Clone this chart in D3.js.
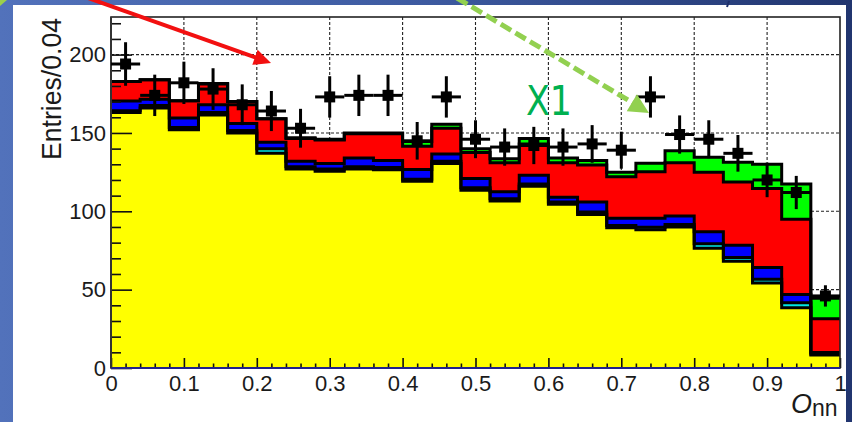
<!DOCTYPE html>
<html>
<head>
<meta charset="utf-8">
<script src="https://cdn.jsdelivr.net/npm/d3@7"></script>
<style>
  html, body { margin: 0; padding: 0; background: #fff; }
  svg { display: block; }
</style>
</head>
<body>
<svg id="chart" width="852" height="422"></svg>
<script>
// ---- histogram contents (25 bins of width 0.04 in O_nn) ----
const binLow = [0.00, 0.04, 0.08, 0.12, 0.16, 0.20, 0.24, 0.28, 0.32, 0.36,
                0.40, 0.44, 0.48, 0.52, 0.56, 0.60, 0.64, 0.68, 0.72, 0.76,
                0.80, 0.84, 0.88, 0.92, 0.96];
const binWidth = 0.04;

// stacked background components, bottom to top
const yellowBkg = [163, 166, 152, 161.5, 150, 137, 127, 125.5, 127, 126.5,
                   119.2, 130.5, 113.5, 106.5, 116, 104.5, 98, 89.5, 88.3, 90,
                   76.5, 68.1, 54.2, 38.5, 8.3];
const cyanBkg   = [1.2, 1.5, 1.5, 1.5, 1.5, 3, 1.5, 1.5, 1.5, 1.5,
                   1.3, 1.5, 1.5, 1.5, 1.5, 1.5, 1.5, 1.5, 1.5, 1.5,
                   2.8, 2.4, 2.5, 3.2, 0.6];
const blueBkg   = [6.2, 4, 6, 5, 4.5, 4, 3.5, 3.5, 5.5, 4.5,
                   6.2, 4.5, 6, 4.5, 5.5, 3, 6.5, 4.5, 5.7, 5.5,
                   7.7, 7.8, 7.5, 5.2, 1.0];
const redBkg    = [12.5, 12.5, 11, 13.3, 14, 15, 14.5, 15, 15.5, 17,
                   14.8, 16.5, 16.5, 18.5, 20, 22, 23.5, 26.5, 29.7, 34,
                   38, 40.4, 50.3, 48.1, 21.6];
const greenBkg  = [0, 0, 0, 0.2, 0, 0, 0.5, 0.5, 0.5, 0.5,
                   3, 2.5, 2.5, 2.5, 3.5, 3, 3, 3, 5.5, 7.6,
                   9.5, 12.6, 15.5, 22.5, 13];

// observed entries and their uncertainties
const dataCounts = [194, 174, 182, 178, 168, 164, 153, 173, 174, 174,
                    145, 173, 146, 141, 142, 141, 143, 139, 173, 149,
                    146, 137, 120, 112, 46];
const dataErrors = [13.9, 13.2, 13.5, 13.3, 13.0, 12.8, 12.4, 13.2, 13.2, 13.2,
                    12.0, 13.2, 12.1, 11.9, 11.9, 11.9, 12.0, 11.8, 13.2, 12.2,
                    12.1, 11.7, 11.0, 10.6, 6.8];

// axis ticks
const xMajorTicks = [0, 0.1, 0.2, 0.3, 0.4, 0.5, 0.6, 0.7, 0.8, 0.9, 1];
const xMinorTicks = [0.02, 0.04, 0.06, 0.08, 0.12, 0.14, 0.16, 0.18, 0.22, 0.24, 0.26, 0.28,
                     0.32, 0.34, 0.36, 0.38, 0.42, 0.44, 0.46, 0.48, 0.52, 0.54, 0.56, 0.58,
                     0.62, 0.64, 0.66, 0.68, 0.72, 0.74, 0.76, 0.78, 0.82, 0.84, 0.86, 0.88,
                     0.92, 0.94, 0.96, 0.98];
const yMajorTicks = [0, 50, 100, 150, 200];
const yMinorTicks = [10, 20, 30, 40, 60, 70, 80, 90, 110, 120, 130, 140, 160, 170, 180, 190, 210, 220];
const yMax = 224;

const layerKeys = ["yellow", "cyan", "blue", "red", "green"];
const layerFill = { yellow: "#ffff00", cyan: "#00e6e6", blue: "#0000ff", red: "#ff0000", green: "#00ff00" };

// ---- layout ----
const W = 852, H = 422;
const plot = { left: 111, right: 840, top: 17, bottom: 368 };

const svg = d3.select("#chart");

// slide backdrop and white panel
const defs = svg.append("defs");
const grad = defs.append("linearGradient").attr("id", "slideBg")
  .attr("x1", "0").attr("y1", "0").attr("x2", "1").attr("y2", "0");
grad.append("stop").attr("offset", "0").attr("stop-color", "#5272bb");
grad.append("stop").attr("offset", "0.5").attr("stop-color", "#3d5aa0");
grad.append("stop").attr("offset", "1").attr("stop-color", "#21356f");
svg.append("rect").attr("width", W).attr("height", H).attr("fill", "url(#slideBg)");
svg.append("rect").attr("x", 13).attr("y", 5).attr("width", 833).attr("height", H - 5).attr("fill", "#ffffff");
svg.append("path").attr("d", "M0,0 L7,0 L0,6 Z").attr("fill", "#9ccf4a");
svg.append("line").attr("x1", 729).attr("y1", 1).attr("x2", 727).attr("y2", 7)
  .attr("stroke", "#1d2f6a").attr("stroke-width", 2);

const x = d3.scaleLinear().domain([0, 1]).range([plot.left, plot.right]);
const y = d3.scaleLinear().domain([0, yMax]).range([plot.bottom, plot.top]);

// dashed grid underneath the histograms
const grid = svg.append("g").attr("stroke", "#222").attr("stroke-width", 1.1)
  .attr("stroke-dasharray", "3,2");
xMajorTicks.filter(v => v > 0 && v < 1).forEach(v => {
  grid.append("line").attr("x1", x(v)).attr("x2", x(v)).attr("y1", plot.top).attr("y2", plot.bottom);
});
yMajorTicks.filter(v => v > 0).forEach(v => {
  grid.append("line").attr("x1", plot.left).attr("x2", plot.right).attr("y1", y(v)).attr("y2", y(v));
});

// stacked backgrounds
const rows = binLow.map((b, i) => ({
  lo: b, hi: b + binWidth,
  yellow: yellowBkg[i], cyan: cyanBkg[i], blue: blueBkg[i], red: redBkg[i], green: greenBkg[i]
}));
const stacked = d3.stack().keys(layerKeys)(rows);

// each bin contributes its two edges so the shapes are flat-topped steps
function stepPoints(series) {
  const pts = [];
  series.forEach(d => {
    pts.push({ x: d.data.lo, y0: d[0], y1: d[1] });
    pts.push({ x: d.data.hi, y0: d[0], y1: d[1] });
  });
  return pts;
}
const area = d3.area().x(d => x(d.x)).y0(d => y(d.y0)).y1(d => y(d.y1));
const topLine = d3.line().x(d => x(d.x)).y(d => y(d.y1));

const histG = svg.append("g");
stacked.forEach(s => {
  histG.append("path").attr("d", area(stepPoints(s)))
    .attr("fill", layerFill[s.key]).attr("stroke", layerFill[s.key]).attr("stroke-width", 0.5);
});
stacked.forEach(s => {
  histG.append("path").attr("d", topLine(stepPoints(s)))
    .attr("fill", "none").attr("stroke", "#000").attr("stroke-width", 3)
    .attr("stroke-linejoin", "miter");
});

// axes
const fontAxis = "'Liberation Sans', Arial, sans-serif";
const xAxisMajor = d3.axisBottom(x).tickValues(xMajorTicks).tickSize(-10).tickPadding(7)
  .tickFormat(d3.format("~g"));
const xAxisMinor = d3.axisBottom(x).tickValues(xMinorTicks).tickSize(-4.5).tickFormat("");
const yAxisMajor = d3.axisLeft(y).tickValues(yMajorTicks).tickSize(-21).tickPadding(5)
  .tickFormat(d3.format("~g"));
const yAxisMinor = d3.axisLeft(y).tickValues(yMinorTicks).tickSize(-10).tickFormat("");

function styleAxis(g) {
  g.select(".domain").remove();
  g.selectAll(".tick line").attr("stroke", "#111").attr("stroke-width", 1.6);
  g.selectAll(".tick text").attr("fill", "#1a1a1a").style("font-family", fontAxis).style("font-size", "22px");
}
svg.append("g").attr("transform", `translate(0,${plot.bottom})`).call(xAxisMinor).call(styleAxis);
svg.append("g").attr("transform", `translate(0,${plot.bottom})`).call(xAxisMajor).call(styleAxis)
  .selectAll(".tick text").attr("dy", "0.74em");
svg.append("g").attr("transform", `translate(${plot.left},0)`).call(yAxisMinor).call(styleAxis);
svg.append("g").attr("transform", `translate(${plot.left},0)`).call(yAxisMajor).call(styleAxis);

// frame
svg.append("rect").attr("x", plot.left).attr("y", plot.top)
  .attr("width", plot.right - plot.left).attr("height", plot.bottom - plot.top)
  .attr("fill", "none").attr("stroke", "#222").attr("stroke-width", 1.6);
svg.append("line").attr("x1", plot.left).attr("x2", plot.right).attr("y1", plot.bottom).attr("y2", plot.bottom)
  .attr("stroke", "#22228a").attr("stroke-width", 2.2);
svg.append("line").attr("x1", plot.left).attr("x2", plot.left).attr("y1", plot.top).attr("y2", plot.bottom)
  .attr("stroke", "#333").attr("stroke-width", 2);

// data points with error bars
const dataG = svg.append("g").attr("stroke", "#000").attr("stroke-width", 3);
binLow.forEach((b, i) => {
  const cx = x(b + binWidth / 2);
  dataG.append("line").attr("x1", x(b)).attr("x2", x(b + binWidth))
    .attr("y1", y(dataCounts[i])).attr("y2", y(dataCounts[i]));
  dataG.append("line").attr("x1", cx).attr("x2", cx)
    .attr("y1", y(dataCounts[i] - dataErrors[i])).attr("y2", y(dataCounts[i] + dataErrors[i]));
  dataG.append("rect").attr("x", cx - 5.5).attr("y", y(dataCounts[i]) - 5.5)
    .attr("width", 11).attr("height", 11).attr("fill", "#000").attr("stroke", "none");
});

// axis titles
svg.append("text").attr("transform", "translate(61,18) rotate(-90)")
  .attr("text-anchor", "end").attr("textLength", 142).attr("lengthAdjust", "spacingAndGlyphs")
  .style("font-family", fontAxis).style("font-size", "28px").attr("fill", "#1a1a1a")
  .text("Entries/0.04");
const xt = svg.append("text").attr("x", 791).attr("y", 413)
  .style("font-family", fontAxis).attr("fill", "#1a1a1a");
xt.append("tspan").style("font-style", "italic").style("font-size", "27px").text("O");
xt.append("tspan").attr("dy", 3).style("font-size", "23px").text("nn");

// annotations
function arrowHead(x1, y1, x2, y2, len, half) {
  const dx = x2 - x1, dy = y2 - y1, L = Math.hypot(dx, dy);
  const ux = dx / L, uy = dy / L, px = -uy, py = ux;
  const bx = x2 - ux * len, by = y2 - uy * len;
  return `M${x2},${y2} L${bx + px * half},${by + py * half} L${bx - px * half},${by - py * half} Z`;
}
// red arrow
svg.append("line").attr("x1", 88).attr("y1", -2).attr("x2", 257).attr("y2", 58)
  .attr("stroke", "#f21010").attr("stroke-width", 4);
svg.append("path").attr("d", arrowHead(88, -2, 271, 63, 17, 8)).attr("fill", "#f21010");
// green dashed arrow
svg.append("line").attr("x1", 457).attr("y1", -2).attr("x2", 633).attr("y2", 103)
  .attr("stroke", "#92d050").attr("stroke-width", 5).attr("stroke-dasharray", "12,5");
svg.append("path").attr("d", arrowHead(457, -2, 649, 113, 20, 10)).attr("fill", "#92d050");
svg.append("text").attr("x", 526).attr("y", 115).attr("textLength", 46).attr("lengthAdjust", "spacingAndGlyphs")
  .style("font-family", "'DejaVu Sans', sans-serif").style("font-size", "41px").attr("fill", "#00b050")
  .text("X1");
</script>
</body>
</html>
